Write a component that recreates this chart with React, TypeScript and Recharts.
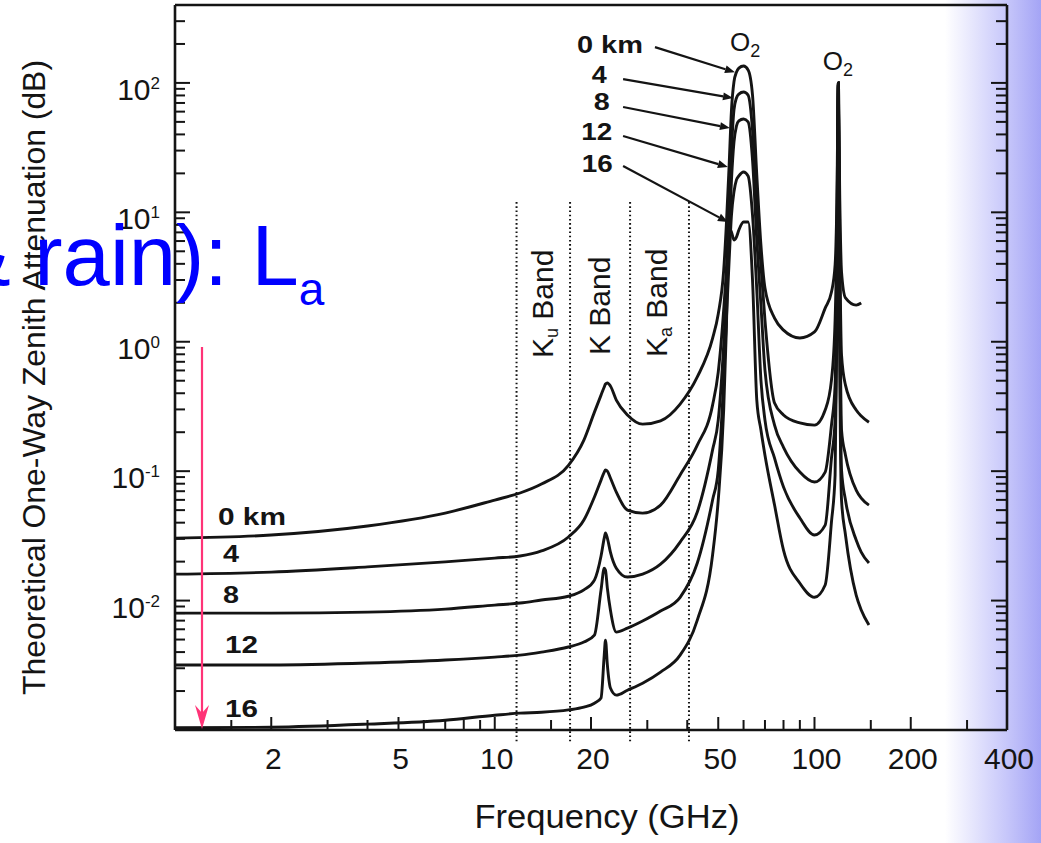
import React from "react";
import { LineChart, Line, XAxis, YAxis, ReferenceLine, ReferenceDot } from "recharts";

const FONT = '"Liberation Sans", Arial, Helvetica, sans-serif';
const INK = "#141414";

// shared frequency grid (GHz)
const freqs = [
  1, 2, 4, 7, 10, 12, 14, 17, 19, 20.5,
  21.5, 22, 22.2, 22.5, 23, 24, 26, 29, 33, 38,
  43, 48, 50, 52, 53, 54, 55, 56, 57, 58,
  60, 62, 64, 66, 68, 70, 75, 80, 90, 100,
  108, 113, 116, 117.5, 118.75, 120, 121.5, 125, 135, 140,
  148,
];

// zenith attenuation (dB), one array per observer altitude
const att0km = [
  0.0304, 0.0321, 0.0377, 0.0474, 0.0598, 0.0678, 0.0795, 0.111, 0.174, 0.286,
  0.387, 0.447, 0.471, 0.48, 0.455, 0.354, 0.272, 0.231, 0.245, 0.33,
  0.535, 1.06, 1.64, 3.56, 7.98, 21.2, 61.8, 102, 121, 130,
  135, 126, 80.6, 19.4, 5.58, 2.6, 1.52, 1.23, 1.07, 1.19,
  1.82, 2.42, 3.92, 12.4, 99.8, 12.4, 3.46, 2.18, 1.92, 1.99,
  null,
];
const att4km = [
  0.016, 0.0166, 0.0182, 0.0199, 0.0213, 0.0221, 0.0242, 0.031, 0.0419, 0.0631,
  0.0853, 0.0984, 0.102, 0.1, 0.0885, 0.0689, 0.05, 0.0474, 0.0547, 0.0935,
  0.159, 0.324, 0.583, 1.76, 3.58, 9.53, 30.3, 61.8, 76.4, 82,
  85.1, 80.6, 43.3, 11.4, 3.92, 1.47, 0.336, 0.272, 0.236, 0.227,
  0.297, 0.506, 1.47, 7.3, 99.8, 5.12, 0.789, 0.462, 0.297, 0.267,
  0.239,
];
const att8km = [
  0.008, 0.008, 0.00815, 0.00859, 0.00923, 0.00957, 0.0101, 0.0108, 0.0121, 0.0144,
  0.0221, 0.0304, 0.0333, 0.0304, 0.0237, 0.0178, 0.0152, 0.016, 0.0191, 0.0283,
  0.0483, 0.146, 0.248, 0.942, 2.3, 6.11, 17.8, 34.9, 46.4, 50.8,
  52.6, 49.9, 25.4, 6.11, 1.92, 0.604, 0.227, 0.153, 0.0984, 0.0824,
  0.0984, 0.227, 0.462, 4.28, 99.8, 2.51, 0.208, 0.133, 0.0715, 0.0619,
  0.0547,
];
const att12km = [
  0.00318, 0.00318, 0.00329, 0.00347, 0.00366, 0.00379, 0.004, 0.00438, 0.00478, 0.00541,
  0.0121, 0.0178, 0.0172, 0.0125, 0.00845, 0.00571, 0.00612, 0.00695, 0.0083, 0.0106,
  0.0195, 0.0598, 0.102, 0.506, 1.47, 3.92, 9.53, 14.4, 17.8, 19.1,
  20.5, 19.1, 9.53, 2.51, 0.506, 0.248, 0.126, 0.0753, 0.0435, 0.0321,
  0.0383, 0.126, 0.248, 2.1, 99.8, 1.23, 0.102, 0.0598, 0.0294, 0.0237,
  0.0195,
];
const att16km = [
  0.00104, 0.00105, 0.00111, 0.00119, 0.0013, 0.00135, 0.00137, 0.00143, 0.0015, 0.00161,
  0.00177, 0.00379, 0.00495, 0.00318, 0.00211, 0.00186, 0.00203, 0.0023, 0.0028, 0.00379,
  0.00706, 0.0225, 0.0598, 0.297, 1.23, 7.57, 7.05, 6.11, 6.44, 7.3,
  8.41, 8.41, 3.0, 0.354, 0.208, 0.133, 0.0547, 0.0245, 0.0136, 0.0106,
  0.0132, 0.0405, 0.0933, 1.23, 99.8, 0.604, 0.0598, 0.0321, 0.011, 0.00845,
  0.00647,
];

const xTicks = [1.5, 2, 3, 4, 5, 6, 7, 8, 9, 10, 15, 20, 30, 40, 50, 60, 70, 80, 90, 100, 150, 200, 300, 400];
const xLabels = [2, 5, 10, 20, 50, 100, 200, 400];
const yDecades = [0.001, 0.01, 0.1, 1, 10, 100];
const yMinorSteps = [2, 3, 4, 5, 6, 7, 8, 9];
const yLabelExp: Record<string, string> = { "0.01": "-2", "0.1": "-1", "1": "0", "10": "1", "100": "2" };

// band edges (GHz) and the dB range the dotted lines cover
const bandEdges = [11.7, 17.2, 26.5, 40.5];
const bandLineTop = 12;
const bandLineBottom = 0.0008;
const bandNames = [
  { name: "K", sub: "u", f: 15.2, v: 0.748 },
  { name: "K", sub: "", f: 22.9, v: 0.789 },
  { name: "K", sub: "a", f: 34.6, v: 0.762 },
];

// altitude annotations
const leftNotes = [
  { text: "0 km", f: 1.363, v: 0.0383, len: 68 },
  { text: "4", f: 1.413, v: 0.0198, len: 16 },
  { text: "8", f: 1.413, v: 0.00956, len: 16 },
  { text: "12", f: 1.433, v: 0.00393, len: 33 },
  { text: "16", f: 1.433, v: 0.00126, len: 33 },
];
const topNotes = [
  { text: "0 km", f: 29.07, v: 170, len: 66 },
  { text: "4", f: 22.4, v: 99.8, len: 15 },
  { text: "8", f: 22.9, v: 61.7, len: 16 },
  { text: "12", f: 23.3, v: 36.2, len: 31 },
  { text: "16", f: 23.4, v: 20.5, len: 31 },
];
const leaders = [
  { f1: 31.7, v1: 189, f2: 56.4, v2: 121 },
  { f1: 25.2, v1: 107, f2: 55.6, v2: 76.4 },
  { f1: 25.2, v1: 65.1, f2: 54.4, v2: 44.8 },
  { f1: 25.2, v1: 38.9, f2: 53.6, v2: 22.4 },
  { f1: 25.2, v1: 22.8, f2: 53.6, v2: 8.41 },
];
const o2Notes = [
  { f: 54.4, v: 176 },
  { f: 106.2, v: 125.8 },
];

const rows = freqs.map((f, i) => ({
  f,
  h0: att0km[i],
  h4: att4km[i],
  h8: att8km[i],
  h12: att12km[i],
  h16: att16km[i],
}));

const yTicks = yDecades
  .flatMap((d) => [d, ...yMinorSteps.map((m) => +(m * d).toPrecision(3))])
  .filter((v) => v < 399);

const isDecade = (v: number) => Math.abs(Math.log10(v) - Math.round(Math.log10(v))) < 1e-6;

const BottomTick = ({ x, y, payload }: any) => {
  const v = payload.value;
  const lab = xLabels.includes(v);
  const edge = v <= 1 || v >= 400;
  return (
    <g>
      {!edge && <line x1={x} x2={x} y1={y} y2={y - (lab ? 13 : 10)} stroke={INK} strokeWidth={2} />}
      {lab && (
        <text x={x + 2} y={y + 39} textAnchor="middle" fontSize={30} fontFamily={FONT} fill={INK}>
          {v}
        </text>
      )}
    </g>
  );
};

const TopTick = ({ x, y, payload }: any) => {
  const v = payload.value;
  if (v <= 1 || v >= 400) return <g />;
  const lab = xLabels.includes(v);
  return <line x1={x} x2={x} y1={y} y2={y + (lab ? 13 : 10)} stroke={INK} strokeWidth={2} />;
};

const LeftTick = ({ x, y, payload }: any) => {
  const v = payload.value;
  const major = isDecade(v);
  const exp = yLabelExp[String(v)];
  return (
    <g>
      {v > 0.0011 && <line x1={x} x2={x + (major ? 15 : 10)} y1={y} y2={y} stroke={INK} strokeWidth={2} />}
      {exp !== undefined && (
        <text x={x - 15} y={y + 17} textAnchor="end" fontSize={30} fontFamily={FONT} fill={INK}>
          10
          <tspan fontSize={17} dy={-11}>
            {exp}
          </tspan>
        </text>
      )}
    </g>
  );
};

const RightTick = ({ x, y, payload }: any) => {
  const v = payload.value;
  if (v < 0.0011) return <g />;
  const major = isDecade(v);
  return <line x1={x} x2={x - (major ? 16 : 11)} y1={y} y2={y} stroke={INK} strokeWidth={2} />;
};

const XTitle = (props: any) => {
  const vb = props.viewBox ?? { x: 175, y: 730, width: 832, height: 0 };
  return (
    <text
      x={vb.x + vb.width / 2 + 16}
      y={730 + 98}
      textAnchor="middle"
      fontSize={34}
      fontFamily={FONT}
      fill={INK}
      textLength={265}
      lengthAdjust="spacingAndGlyphs"
    >
      Frequency (GHz)
    </text>
  );
};

const YTitle = (props: any) => {
  const vb = props.viewBox ?? { x: 175, y: 5, width: 0, height: 725 };
  const cx = 45;
  const cy = vb.y + vb.height / 2 + 10;
  return (
    <text
      x={cx}
      y={cy}
      transform={`rotate(-90 ${cx} ${cy})`}
      textAnchor="middle"
      fontSize={32}
      fontFamily={FONT}
      fill={INK}
      textLength={635}
      lengthAdjust="spacingAndGlyphs"
    >
      Theoretical One-Way Zenith Attenuation (dB)
    </text>
  );
};

const Leader = ({ x1, y1, x2, y2 }: any) => {
  const dx = x2 - x1;
  const dy = y2 - y1;
  const len = Math.hypot(dx, dy) || 1;
  const ux = dx / len;
  const uy = dy / len;
  const bx = x2 - ux * 10;
  const by = y2 - uy * 10;
  return (
    <g>
      <line x1={x1} y1={y1} x2={bx} y2={by} stroke={INK} strokeWidth={2.2} />
      <polygon points={`${x2},${y2} ${bx - uy * 4},${by + ux * 4} ${bx + uy * 4},${by - ux * 4}`} fill={INK} />
    </g>
  );
};

const noteShape = (text: string, anchor: "start" | "end", len: number) => (p: any) => (
  <text
    x={p.cx}
    y={p.cy}
    textAnchor={anchor}
    fontSize={23}
    fontWeight={700}
    fontFamily={FONT}
    fill={INK}
    textLength={len}
    lengthAdjust="spacingAndGlyphs"
  >
    {text}
  </text>
);

const bandShape = (name: string, sub: string) => (p: any) => (
  <text
    x={p.cx}
    y={p.cy}
    transform={`rotate(-90 ${p.cx} ${p.cy})`}
    fontSize={30}
    fontFamily={FONT}
    fill={INK}
  >
    {name}
    {sub && (
      <tspan fontSize={18} dy={5}>
        {sub}
      </tspan>
    )}
    <tspan fontSize={30} dy={sub ? -5 : 0}>
      {" Band"}
    </tspan>
  </text>
);

const o2Shape = (p: any) => (
  <text x={p.cx} y={p.cy} fontSize={26} fontFamily={FONT} fill={INK}>
    O
    <tspan fontSize={18} dy={6}>
      2
    </tspan>
  </text>
);

const series = [
  { key: "h0", name: "0 km" },
  { key: "h4", name: "4 km" },
  { key: "h8", name: "8 km" },
  { key: "h12", name: "12 km" },
  { key: "h16", name: "16 km" },
];

export default function App() {
  const axisLine = { stroke: INK, strokeWidth: 2.6 };
  return (
    <div
      style={{
        position: "absolute",
        left: 0,
        top: 0,
        width: 1041,
        height: 843,
        overflow: "hidden",
        background: "#fff",
        fontFamily: FONT,
      }}
    >
      <div
        style={{
          position: "absolute",
          left: 945,
          top: 0,
          width: 96,
          height: 843,
          background: "linear-gradient(to right, #ffffff 0%, #c6c6fa 65%, #a4a4f5 100%)",
        }}
      />
      <div style={{ position: "absolute", left: 0, top: 0 }}>
        <LineChart width={1041} height={843} data={rows} margin={{ top: 4, right: 33, bottom: 112, left: 174 }}>
          <XAxis
            dataKey="f"
            type="number"
            scale="log"
            domain={[1, 400]}
            allowDataOverflow
            ticks={xTicks}
            interval={0}
            height={1}
            tickSize={0}
            tickMargin={0}
            tickLine={false}
            axisLine={axisLine}
            tick={<BottomTick />}
            label={{ content: <XTitle /> }}
          />
          <XAxis
            xAxisId="top"
            orientation="top"
            type="number"
            scale="log"
            domain={[1, 400]}
            allowDataOverflow
            ticks={xTicks}
            interval={0}
            height={1}
            tickSize={0}
            tickMargin={0}
            tickLine={false}
            axisLine={axisLine}
            tick={<TopTick />}
          />
          <YAxis
            type="number"
            scale="log"
            domain={[0.001, 400]}
            allowDataOverflow
            ticks={yTicks}
            interval={0}
            width={1}
            tickSize={0}
            tickMargin={0}
            tickLine={false}
            axisLine={axisLine}
            tick={<LeftTick />}
            label={{ content: <YTitle /> }}
          />
          <YAxis
            yAxisId="right"
            orientation="right"
            type="number"
            scale="log"
            domain={[0.001, 400]}
            allowDataOverflow
            ticks={yTicks}
            interval={0}
            width={1}
            tickSize={0}
            tickMargin={0}
            tickLine={false}
            axisLine={axisLine}
            tick={<RightTick />}
          />

          {bandEdges.map((f) => (
            <ReferenceLine
              key={`edge-${f}`}
              segment={[
                { x: f, y: bandLineTop },
                { x: f, y: bandLineBottom },
              ]}
              stroke={INK}
              strokeWidth={2}
              strokeDasharray="1.6 2.6"
              ifOverflow="visible"
            />
          ))}

          {series.map((s) => (
            <Line
              key={s.key}
              dataKey={s.key}
              name={s.name}
              type="monotone"
              stroke={INK}
              strokeWidth={2.9}
              dot={false}
              activeDot={false}
              isAnimationActive={false}
            />
          ))}

          {leaders.map((l, i) => (
            <ReferenceLine
              key={`lead-${i}`}
              segment={[
                { x: l.f1, y: l.v1 },
                { x: l.f2, y: l.v2 },
              ]}
              ifOverflow="visible"
              shape={(p: any) => <Leader {...p} />}
            />
          ))}

          {bandNames.map((b, i) => (
            <ReferenceDot key={`band-${i}`} x={b.f} y={b.v} r={0} ifOverflow="visible" shape={bandShape(b.name, b.sub)} />
          ))}
          {leftNotes.map((n, i) => (
            <ReferenceDot key={`ln-${i}`} x={n.f} y={n.v} r={0} ifOverflow="visible" shape={noteShape(n.text, "start", n.len)} />
          ))}
          {topNotes.map((n, i) => (
            <ReferenceDot key={`tn-${i}`} x={n.f} y={n.v} r={0} ifOverflow="visible" shape={noteShape(n.text, "end", n.len)} />
          ))}
          {o2Notes.map((n, i) => (
            <ReferenceDot key={`o2-${i}`} x={n.f} y={n.v} r={0} ifOverflow="visible" shape={o2Shape} />
          ))}
        </LineChart>
      </div>

      {/* slide overlay: title fragment and pointer arrow */}
      <svg width={1041} height={843} style={{ position: "absolute", left: 0, top: 0, pointerEvents: "none" }}>
        <text x={-46} y={285} fontSize={85} fill="#0000ff" fontFamily={FONT}>
          {"& rain): L"}
          <tspan fontSize={46} dy={20}>
            a
          </tspan>
        </text>
        <line x1={202} y1={347} x2={202} y2={716} stroke="#ff3377" strokeWidth={2.2} />
        <polygon points="202,729 195,705 202,713 209,705" fill="#ff3377" />
      </svg>
    </div>
  );
}
